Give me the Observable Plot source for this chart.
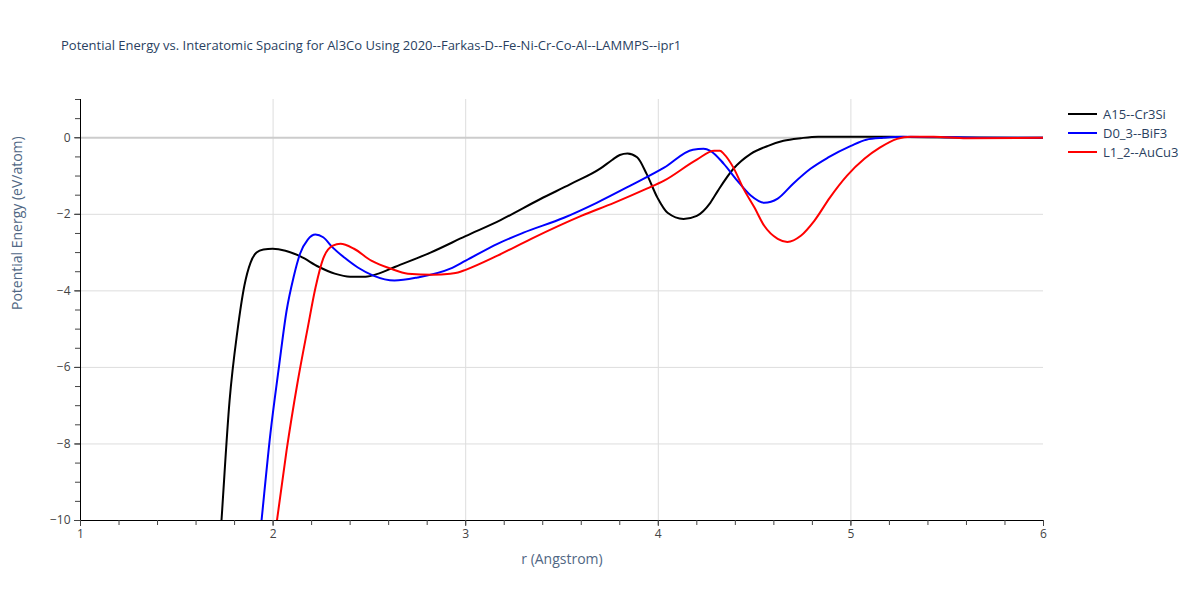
<!DOCTYPE html>
<html>
<head>
<meta charset="utf-8">
<script src="https://cdn.jsdelivr.net/npm/d3@7"></script>
<script src="https://cdn.jsdelivr.net/npm/@observablehq/plot@0.6"></script>
<style>
  body { margin: 0; background: #fff; font-family: "Open Sans", Verdana, Arial, sans-serif; }
  #wrap { position: relative; width: 1200px; height: 600px; }
  #title { position: absolute; left: 61px; top: 36px; font-size: 13px; color: #2a3f5f; white-space: nowrap; z-index: 2; }
  #legend { position: absolute; left: 1068px; top: 104px; font-size: 13px; color: #2a3f5f; z-index: 2; }
  #legend .item { display: flex; align-items: center; height: 19px; }
  #legend .sw { width: 29px; height: 2px; margin-right: 6px; }
  #chart { position: absolute; left: 0; top: 80px; z-index: 1; }
</style>
</head>
<body>
<div id="wrap">
  <div id="title">Potential Energy vs. Interatomic Spacing for Al3Co Using 2020--Farkas-D--Fe-Ni-Cr-Co-Al--LAMMPS--ipr1</div>
  <div id="legend"></div>
  <div id="chart"></div>
</div>
<script>
const seriesNames = ["A15--Cr3Si", "D0_3--BiF3", "L1_2--AuCu3"];
const seriesColors = ["#000000", "#0000ff", "#ff0000"];

const a15R = [1.70, 1.732, 1.774, 1.815, 1.851, 1.883, 1.914, 1.95, 1.997, 2.064, 2.142, 2.236, 2.32, 2.40, 2.48, 2.547, 2.635, 2.817, 2.999, 3.181, 3.388, 3.544, 3.70, 3.76, 3.80, 3.84, 3.89, 3.94, 3.996, 4.048, 4.131, 4.20, 4.27, 4.31, 4.39, 4.48, 4.57, 4.65, 4.74, 4.83, 5.0, 5.3, 5.6, 6.0];
const a15E = [-12.4, -10.0, -6.87, -5.04, -3.86, -3.26, -3.0, -2.92, -2.9, -2.95, -3.1, -3.37, -3.55, -3.63, -3.63, -3.55, -3.37, -3.0, -2.57, -2.15, -1.60, -1.21, -0.80, -0.58, -0.45, -0.41, -0.51, -0.95, -1.57, -1.96, -2.12, -2.04, -1.7, -1.38, -0.81, -0.42, -0.21, -0.08, -0.01, 0.03, 0.03, 0.02, 0.01, 0.0];

const d03R = [1.92, 1.94, 1.986, 2.03, 2.07, 2.106, 2.14, 2.18, 2.22, 2.26, 2.31, 2.37, 2.44, 2.52, 2.63, 2.75, 2.92, 3.0, 3.165, 3.30, 3.51, 3.68, 3.855, 4.03, 4.18, 4.235, 4.27, 4.34, 4.41, 4.48, 4.55, 4.62, 4.70, 4.79, 4.88, 5.0, 5.08, 5.17, 5.27, 5.45, 5.69, 6.0];
const d03E = [-11.0, -10.0, -7.73, -6.0, -4.52, -3.65, -3.03, -2.66, -2.53, -2.6, -2.87, -3.13, -3.39, -3.6, -3.73, -3.65, -3.42, -3.21, -2.77, -2.48, -2.09, -1.7, -1.25, -0.78, -0.31, -0.29, -0.34, -0.68, -1.12, -1.51, -1.7, -1.59, -1.2, -0.81, -0.52, -0.21, -0.05, 0.0, 0.03, 0.02, 0.0, 0.0];

const l12R = [2.0, 2.02, 2.07, 2.126, 2.18, 2.22, 2.26, 2.31, 2.35, 2.42, 2.51, 2.61, 2.70, 2.83, 2.92, 2.96, 3.0, 3.165, 3.34, 3.6, 3.77, 3.94, 4.03, 4.20, 4.29, 4.32, 4.34, 4.39, 4.44, 4.50, 4.55, 4.62, 4.67, 4.74, 4.81, 4.89, 4.98, 5.07, 5.15, 5.24, 5.31, 5.43, 5.6, 6.0];
const l12E = [-10.8, -10.0, -8.17, -6.42, -4.96, -3.92, -3.16, -2.82, -2.77, -2.9, -3.21, -3.42, -3.55, -3.58, -3.55, -3.52, -3.45, -3.08, -2.64, -2.04, -1.7, -1.33, -1.12, -0.57, -0.34, -0.34, -0.42, -0.78, -1.31, -1.83, -2.3, -2.64, -2.72, -2.56, -2.17, -1.57, -0.99, -0.55, -0.26, -0.03, 0.03, 0.03, -0.01, 0.0];

const xMajorTicks = [1, 2, 3, 4, 5, 6];
const yMajorTicks = [-10, -8, -6, -4, -2, 0];

const rows = [];
[[a15R, a15E], [d03R, d03E], [l12R, l12E]].forEach(([rs, es], i) => {
  rs.forEach((r, j) => rows.push({series: seriesNames[i], r, e: es[j]}));
});

const xMinor = d3.range(1, 6.001, 0.2).map(v => +v.toFixed(2));
const yMinor = d3.range(-10, 1.001, 0.5).map(v => +v.toFixed(2));

const plot = Plot.plot({
  width: 1200,
  height: 520,
  marginLeft: 80,
  marginRight: 157,
  marginTop: 19,
  marginBottom: 80,
  style: {fontFamily: '"Open Sans", Verdana, Arial, sans-serif', fontSize: "12px", color: "#2a3f5f", background: "transparent"},
  x: {domain: [1, 6]},
  y: {domain: [-10, 1]},
  color: {domain: seriesNames, range: seriesColors},
  marks: [
    Plot.gridX([2, 3, 4, 5], {stroke: "#dddddd", strokeOpacity: 1, strokeWidth: 1}),
    Plot.gridY([-8, -6, -4, -2], {stroke: "#dddddd", strokeOpacity: 1, strokeWidth: 1}),
    Plot.ruleY([0], {stroke: "#cccccc", strokeWidth: 2}),
    Plot.line(rows, {x: "r", y: "e", z: "series", stroke: "series", strokeWidth: 2, curve: "monotone-x", clip: true}),
    Plot.ruleX([1], {stroke: "#000", strokeWidth: 1}),
    Plot.ruleY([-10], {stroke: "#000", strokeWidth: 1}),
    Plot.axisX(xMinor, {tickSize: 5, text: null, stroke: "#444", label: null}),
    Plot.axisX(xMajorTicks, {tickSize: 6, tickPadding: 3, stroke: "#444", fill: "#444", label: null, tickFormat: d => String(d)}),
    Plot.axisY(yMinor, {tickSize: 5, text: null, stroke: "#444", label: null}),
    Plot.axisY(yMajorTicks, {tickSize: 6, tickPadding: 4, fill: "#444", stroke: "#444", label: null, tickFormat: d => (d < 0 ? "\u2212" + Math.abs(d) : String(d))}),
    Plot.text(["r (Angstrom)"], {frameAnchor: "bottom", dy: 43, fontSize: 14, fill: "#506784", text: d => d}),
    Plot.text(["Potential Energy (eV/atom)"], {frameAnchor: "left", dx: -63, rotate: -90, fontSize: 14, fill: "#506784", text: d => d})
  ]
});
document.getElementById("chart").appendChild(plot);

const legend = document.getElementById("legend");
seriesNames.forEach((name, i) => {
  const item = document.createElement("div");
  item.className = "item";
  const sw = document.createElement("div");
  sw.className = "sw";
  sw.style.background = seriesColors[i];
  const t = document.createElement("span");
  t.textContent = name;
  item.appendChild(sw);
  item.appendChild(t);
  legend.appendChild(item);
});
</script>
</body>
</html>
